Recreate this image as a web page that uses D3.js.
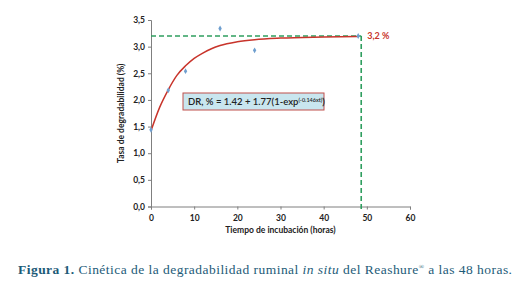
<!DOCTYPE html>
<html>
<head>
<meta charset="utf-8">
<script src="https://cdn.jsdelivr.net/npm/d3@7"></script>
<style>
  body { margin: 0; background: #fff; }
  svg text { font-family: Lato, "Open Sans", sans-serif; }
</style>
</head>
<body>
<div id="chart"></div>
<script>
// observed points (hours, %)
var obsHours = [0, 4, 8, 16, 24, 48];
var obsValues = [1.44, 2.18, 2.54, 3.34, 2.93, 3.20];

// fitted curve
var fitHours = [0, 2, 4, 6, 8, 10, 12, 14, 16, 20, 24, 30, 40, 48];
var fitValues = [1.42, 1.86, 2.19, 2.46, 2.64, 2.78, 2.88, 2.96, 3.02, 3.09, 3.13, 3.16, 3.18, 3.19];

var xTicks = [0, 10, 20, 30, 40, 50, 60];
var yTicks = [0, 0.5, 1, 1.5, 2, 2.5, 3, 3.5];
var endHour = 48.7;
var endValue = 3.2;

var width = 522, height = 288;
var margin = { top: 20, left: 151, right: 112, bottom: 82 };

var svg = d3.select("#chart").append("svg")
  .attr("width", width)
  .attr("height", height);

var x = d3.scaleLinear().domain([0, 60]).range([margin.left, width - margin.right]);
var y = d3.scaleLinear().domain([0, 3.5]).range([height - margin.bottom + 0.5, margin.top]);

var fmt = function(d) { return d3.format(".1f")(d).replace(".", ","); };

// axes
var xAxis = svg.append("g")
  .attr("transform", "translate(0," + y(0) + ")")
  .call(d3.axisBottom(x).tickValues(xTicks).tickSize(3).tickFormat(d3.format("d")));
var yAxis = svg.append("g")
  .attr("transform", "translate(" + x(0) + ",0)")
  .call(d3.axisLeft(y).tickValues(yTicks).tickSize(3).tickFormat(fmt));

[xAxis, yAxis].forEach(function(a) {
  a.selectAll("path, line").attr("stroke", "#7f7f7f");
  a.selectAll("text").attr("fill", "#222").attr("font-size", 8.5).attr("font-weight", "bold");
});
xAxis.selectAll("text").attr("dy", "0.95em");

// reference lines
svg.append("line")
  .attr("x1", x(0)).attr("x2", x(endHour))
  .attr("y1", y(endValue)).attr("y2", y(endValue))
  .attr("stroke", "#2f9e5f").attr("stroke-width", 1.6).attr("stroke-dasharray", "5,3");
svg.append("line")
  .attr("x1", x(endHour)).attr("x2", x(endHour))
  .attr("y1", y(endValue)).attr("y2", y(0) + 4)
  .attr("stroke", "#2f9e5f").attr("stroke-width", 1.6).attr("stroke-dasharray", "5,3");

// fitted curve
var fit = fitHours.map(function(h, i) { return { h: h, v: fitValues[i] }; });
svg.append("path")
  .datum(fit)
  .attr("fill", "none")
  .attr("stroke", "#c8342b")
  .attr("stroke-width", 1.5)
  .attr("d", d3.line()
    .x(function(d) { return x(d.h); })
    .y(function(d) { return y(d.v); })
    .curve(d3.curveMonotoneX));

// observed points
var obs = obsHours.map(function(h, i) { return { h: h, v: obsValues[i] }; });
svg.selectAll(".pt")
  .data(obs)
  .enter()
  .append("path")
  .attr("class", "pt")
  .attr("transform", function(d) { return "translate(" + x(d.h) + "," + y(d.v) + ")"; })
  .attr("d", d3.symbol().type(d3.symbolDiamond).size(10))
  .attr("fill", "#6f9fcf");

// end label
svg.append("text")
  .attr("x", x(endHour) + 6).attr("y", y(endValue) + 3)
  .attr("fill", "#c8342b").attr("font-size", 9).attr("font-weight", "bold")
  .text("3,2 %");

// equation box
svg.append("rect")
  .attr("x", 183).attr("y", 93).attr("width", 141).attr("height", 17)
  .attr("fill", "#c9e6ef").attr("stroke", "#c0504d").attr("stroke-width", 1);
var eq = svg.append("text")
  .attr("x", 188).attr("y", 105)
  .attr("fill", "#222").attr("font-size", 9.5).attr("font-weight", 600);
eq.append("tspan").text("DR, % = 1.42 + 1.77(1-exp");
eq.append("tspan").attr("font-size", 5.5).attr("dy", -3.5).text("(-0.146xt)");
eq.append("tspan").attr("dy", 3.5).text(")");

// axis titles
svg.append("text")
  .attr("transform", "translate(124," + y(1.75) + ") rotate(-90)")
  .attr("text-anchor", "middle")
  .attr("fill", "#222").attr("font-size", 8.5).attr("font-weight", "bold")
  .text("Tasa de degradabilidad  (%)");
svg.append("text")
  .attr("x", x(30)).attr("y", 233)
  .attr("text-anchor", "middle")
  .attr("fill", "#222").attr("font-size", 8.5).attr("font-weight", "bold")
  .text("Tiempo de incubación  (horas)");

// caption
var cap = svg.append("text")
  .attr("x", 18).attr("y", 274)
  .attr("fill", "#1d5b78")
  .attr("font-size", 13.5)
  .attr("textLength", 494)
  .attr("lengthAdjust", "spacing")
  .style("font-family", "'Liberation Serif', 'DejaVu Serif', serif");
cap.append("tspan").attr("font-weight", "bold").text("Figura 1.");
cap.append("tspan").text(" Cinética de la degradabilidad ruminal ");
cap.append("tspan").attr("font-style", "italic").text("in situ");
cap.append("tspan").text(" del Reashure");
cap.append("tspan").attr("font-size", 7).attr("dy", -5).text("®");
cap.append("tspan").attr("dy", 5).text(" a las 48 horas.");
</script>
</body>
</html>
